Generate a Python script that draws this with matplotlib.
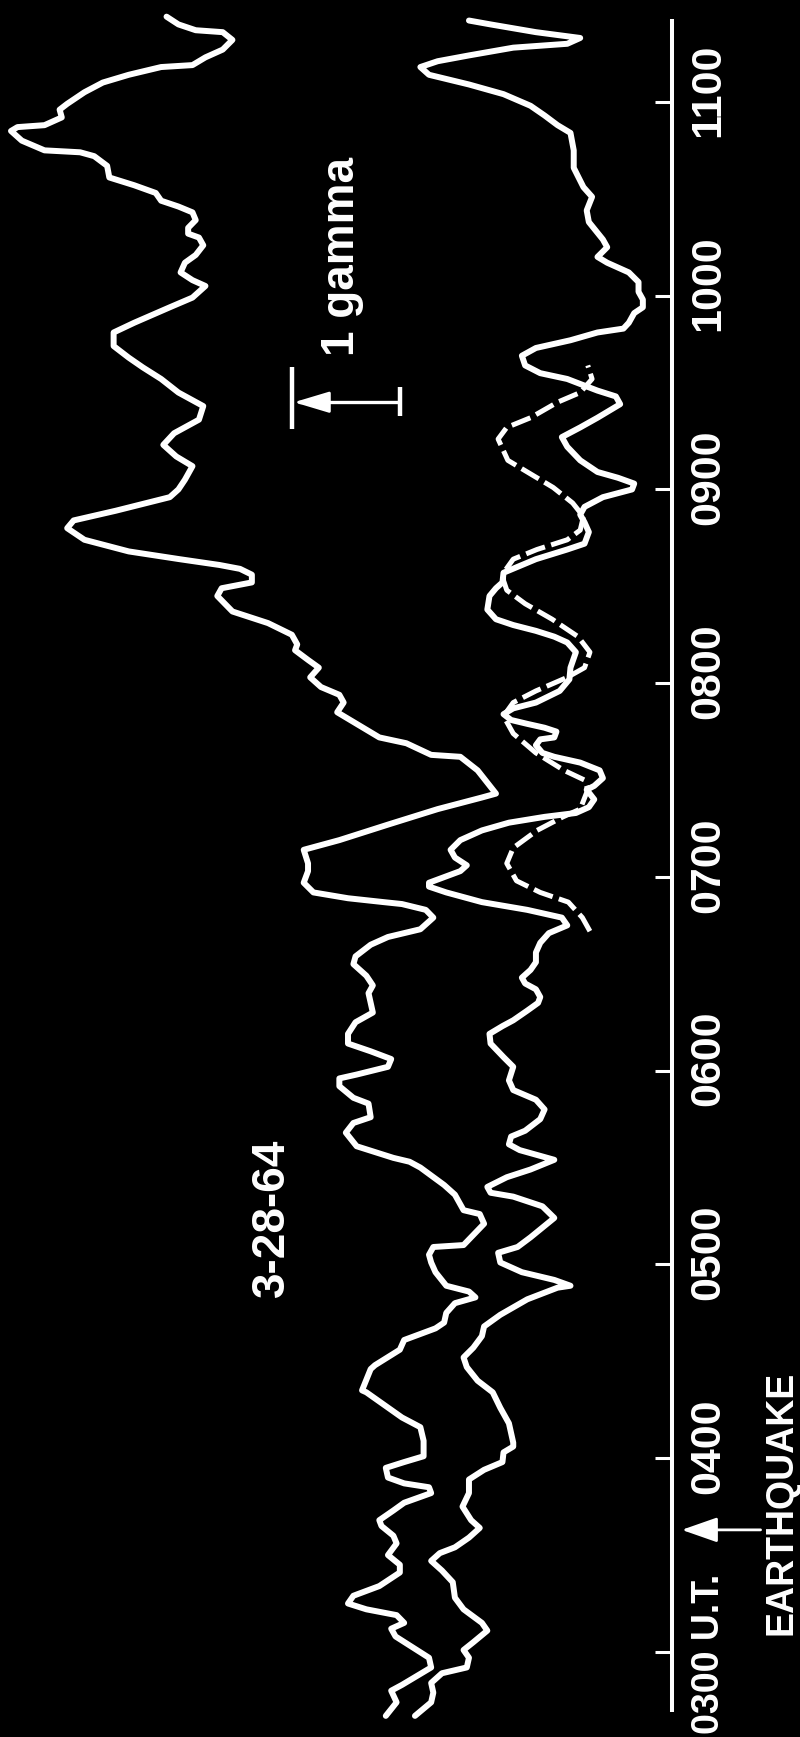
import matplotlib
matplotlib.use("Agg")
import matplotlib.pyplot as plt

# magnetometer record, 28 March 1964 (time in UT hours, field in gamma)
upper_ut = [2.67, 2.74, 2.80, 2.83, 2.92, 2.97, 3.03, 3.08, 3.12, 3.15, 3.19, 3.22, 3.25, 3.29,
            3.34, 3.41, 3.45, 3.50, 3.56, 3.60, 3.65, 3.68, 3.73, 3.77, 3.82, 3.85, 3.87, 3.90,
            3.95, 3.98, 4.01, 4.09, 4.16, 4.21, 4.34, 4.35, 4.46, 4.48, 4.56, 4.61, 4.67, 4.70,
            4.75, 4.80, 4.83, 4.86, 4.89, 4.96, 5.01, 5.05, 5.09, 5.10, 5.21, 5.26, 5.28, 5.36,
            5.41, 5.50, 5.53, 5.55, 5.61, 5.68, 5.73, 5.76, 5.83, 5.86, 5.92, 5.96, 5.98, 6.02,
            6.06, 6.10, 6.14, 6.19, 6.25, 6.30, 6.35, 6.40, 6.44, 6.49, 6.55, 6.59, 6.65, 6.69,
            6.73, 6.79, 6.83, 6.86, 6.87, 6.89, 6.92, 6.97, 7.03, 7.07, 7.14, 7.19, 7.27, 7.35,
            7.41, 7.43, 7.55, 7.62, 7.63, 7.69, 7.72, 7.80, 7.85, 7.90, 7.94, 7.98, 8.03, 8.08,
            8.12, 8.17, 8.20, 8.25, 8.31, 8.37, 8.45, 8.49, 8.52, 8.56, 8.59, 8.61, 8.64, 8.68,
            8.74, 8.80, 8.84, 8.89, 8.96, 9.00, 9.05, 9.12, 9.17, 9.23, 9.29, 9.36, 9.43, 9.50,
            9.57, 9.63, 9.68, 9.74, 9.81, 9.86, 9.94, 9.99, 10.05, 10.08, 10.12, 10.17, 10.21,
            10.26, 10.30, 10.32, 10.35, 10.39, 10.43, 10.46, 10.49, 10.53, 10.57, 10.61, 10.67,
            10.72, 10.74, 10.75, 10.80, 10.85, 10.87, 10.88, 10.92, 10.96, 10.99, 11.05, 11.10,
            11.14, 11.18, 11.19, 11.23, 11.27, 11.32, 11.36, 11.37, 11.40, 11.44]
upper_gamma = [2.65, 2.55, 2.60, 2.50, 2.23, 2.25, 2.42, 2.56, 2.60, 2.48, 2.55, 2.83, 3.00, 2.95,
               2.71, 2.52, 2.52, 2.63, 2.55, 2.58, 2.69, 2.71, 2.58, 2.48, 2.23, 2.25, 2.48, 2.63,
               2.65, 2.48, 2.30, 2.30, 2.33, 2.50, 2.83, 2.87, 2.79, 2.75, 2.52, 2.48, 2.19, 2.11,
               2.09, 2.01, 1.82, 1.88, 2.09, 2.19, 2.23, 2.25, 2.21, 1.93, 1.74, 1.78, 1.93, 2.01,
               2.11, 2.33, 2.43, 2.58, 2.92, 3.02, 2.95, 2.79, 2.81, 2.95, 3.08, 3.08, 2.92, 2.63,
               2.60, 2.79, 3.00, 3.00, 2.93, 2.77, 2.79, 2.81, 2.77, 2.83, 2.95, 2.93, 2.79, 2.63,
               2.33, 2.21, 2.28, 2.50, 2.67, 3.00, 3.32, 3.41, 3.37, 3.37, 3.41, 3.08, 2.63, 2.17,
               1.76, 1.63, 1.80, 1.96, 2.23, 2.46, 2.71, 2.95, 3.10, 3.04, 3.08, 3.25, 3.35, 3.27,
               3.37, 3.49, 3.47, 3.52, 3.74, 4.07, 4.21, 4.17, 3.89, 3.89, 4.00, 4.19, 4.56, 5.03,
               5.44, 5.60, 5.54, 5.15, 4.65, 4.57, 4.51, 4.44, 4.59, 4.71, 4.61, 4.38, 4.34, 4.57,
               4.73, 4.90, 5.03, 5.17, 5.17, 4.98, 4.65, 4.44, 4.32, 4.44, 4.55, 4.51, 4.41,
               4.34, 4.38, 4.48, 4.48, 4.41, 4.44, 4.57, 4.73, 4.78, 4.98, 5.21, 5.23,
               5.35, 5.48, 5.81, 6.02, 6.12, 6.06, 5.81, 5.65, 5.67, 5.60, 5.44, 5.27,
               5.03, 4.73, 4.44, 4.32, 4.16, 4.07, 4.16, 4.41, 4.57, 4.68]

lower_ut = [2.67, 2.74, 2.79, 2.84, 2.89, 2.92, 2.97, 3.01, 3.05, 3.11, 3.15, 3.22, 3.28, 3.36,
            3.42, 3.47, 3.51, 3.54, 3.59, 3.64, 3.68, 3.75, 3.82, 3.89, 3.94, 3.98, 4.03, 4.06,
            4.08, 4.18, 4.26, 4.34, 4.40, 4.47, 4.52, 4.57, 4.63, 4.68, 4.74, 4.82, 4.88, 4.89,
            4.92, 4.96, 5.01, 5.06, 5.09, 5.14, 5.19, 5.24, 5.30, 5.35, 5.37, 5.40, 5.45, 5.49,
            5.54, 5.59, 5.62, 5.66, 5.69, 5.75, 5.80, 5.85, 5.90, 5.95, 6.02, 6.07, 6.14, 6.19,
            6.23, 6.26, 6.31, 6.35, 6.38, 6.42, 6.45, 6.48, 6.52, 6.56, 6.61, 6.66, 6.71, 6.75,
            6.79, 6.83, 6.87, 6.92, 6.95, 6.97, 7.03, 7.06, 7.10, 7.14, 7.19, 7.24, 7.28, 7.31,
            7.33, 7.36, 7.40, 7.45, 7.47, 7.51, 7.55, 7.59, 7.62, 7.64, 7.68, 7.71, 7.72, 7.75,
            7.77, 7.79, 7.81, 7.84, 7.87, 7.90, 7.96, 8.02, 8.08, 8.16, 8.21, 8.24, 8.27, 8.30,
            8.33, 8.38, 8.45, 8.49, 8.52, 8.57, 8.64, 8.69, 8.72, 8.78, 8.83, 8.87, 8.91, 8.96,
            9.00, 9.03, 9.06, 9.09, 9.15, 9.22, 9.27, 9.32, 9.37, 9.44, 9.48, 9.51, 9.57, 9.60,
            9.64, 9.69, 9.73, 9.77, 9.81, 9.83, 9.86, 9.91, 9.94, 9.98, 10.02, 10.07, 10.12,
            10.17, 10.20, 10.25, 10.29, 10.38, 10.44, 10.51, 10.56, 10.66, 10.75, 10.84, 10.88,
            10.93, 10.98, 11.04, 11.09, 11.14, 11.18, 11.21, 11.24, 11.28, 11.30, 11.33, 11.36,
            11.40, 11.42]
lower_gamma = [2.38, 2.23, 2.21, 2.23, 2.13, 1.90, 1.88, 1.93, 1.84, 1.71, 1.76, 1.93, 2.01, 2.03,
               2.13, 2.23, 2.15, 2.01, 1.88, 1.78, 1.86, 1.94, 1.88, 1.88, 1.74, 1.57, 1.56, 1.47,
               1.47, 1.51, 1.59, 1.66, 1.80, 1.90, 1.93, 1.84, 1.76, 1.74, 1.59, 1.34, 1.06, 0.94,
               1.09, 1.39, 1.59, 1.61, 1.43, 1.31, 1.20, 1.09, 1.20, 1.47, 1.68, 1.71, 1.53, 1.31,
               1.09, 1.41, 1.51, 1.49, 1.36, 1.22, 1.18, 1.26, 1.47, 1.51, 1.47, 1.56, 1.68, 1.69,
               1.57, 1.47, 1.34, 1.24, 1.22, 1.26, 1.36, 1.39, 1.31, 1.26, 1.26, 1.22, 1.14, 0.97,
               1.02, 1.34, 1.76, 2.09, 2.25, 2.25, 1.96, 1.90, 2.01, 2.05, 1.96, 1.76, 1.51, 1.18,
               0.89, 0.77, 0.72, 0.79, 0.72, 0.64, 0.67, 0.85, 1.09, 1.20, 1.26, 1.22, 1.09, 1.07,
               1.18, 1.34, 1.49, 1.56, 1.47, 1.26, 1.04, 0.95, 0.94, 0.89, 0.97, 1.09, 1.26, 1.47,
               1.63, 1.71, 1.69, 1.63, 1.57, 1.56, 1.26, 0.97, 0.81, 0.77, 0.81, 0.85, 0.81, 0.64,
               0.37, 0.35, 0.50, 0.69, 0.85, 0.97, 1.02, 0.85, 0.69, 0.48, 0.52, 0.69, 0.97, 1.22,
               1.36, 1.39, 1.26, 0.94, 0.69, 0.45, 0.40, 0.35, 0.27, 0.27, 0.31, 0.31, 0.40,
               0.60, 0.69, 0.60, 0.64, 0.77, 0.79, 0.74, 0.82, 0.91, 0.91, 0.94, 1.06,
               1.18, 1.31, 1.56, 1.88, 2.25, 2.33, 2.17, 1.88, 1.47, 0.97, 0.85, 1.26,
               1.68, 1.88]

# dashed model curve, 0645 - 0945 UT
model_ut = [6.72, 6.79, 6.87, 6.92, 6.98, 7.07, 7.15, 7.24, 7.31, 7.35, 7.45, 7.50, 7.55, 7.64,
            7.74, 7.83, 7.90, 7.96, 8.03, 8.08, 8.16, 8.24, 8.33, 8.41, 8.48, 8.53, 8.57, 8.64,
            8.69, 8.74, 8.79, 8.86, 8.93, 9.01, 9.08, 9.15, 9.26, 9.32, 9.37, 9.45, 9.50, 9.57,
            9.64]
model_gamma = [0.76, 0.83, 0.96, 1.22, 1.44, 1.53, 1.47, 1.25, 1.01, 0.85, 0.78, 0.81, 1.00, 1.26,
               1.47, 1.56, 1.47, 1.26, 0.97, 0.81, 0.76, 0.87, 1.11, 1.36, 1.53, 1.56, 1.56, 1.47,
               1.25, 0.97, 0.85, 0.82, 0.92, 1.10, 1.31, 1.52, 1.61, 1.53, 1.31, 1.06, 0.85, 0.74,
               0.78]

hours = [3, 4, 5, 6, 7, 8, 9, 10, 11]
hour_labels = ["0300 U.T.", "0400", "0500", "0600", "0700", "0800", "0900", "1000", "1100"]
quake_ut = 3.63
record_date = "3-28-64"
scale_label = "1 gamma"

FONT = ["Liberation Sans", "DejaVu Sans"]
LW = 4.3


def label(ax, x, y, s, size, **kw):
    ax.text(x, y, s, rotation=90, color="white", fontsize=size, family=FONT,
            fontweight="bold", ha="center", **kw)


def main():
    fig = plt.figure(figsize=(8, 17.37), dpi=100, facecolor="black")
    ax = fig.add_axes([0, 0, 1, 1])
    ax.set_facecolor("black")
    ax.set_xlim(6.222, -1.185)
    ax.set_ylim(2.561, 11.526)
    ax.axis("off")

    line_kw = dict(color="white", lw=LW, solid_capstyle="round", solid_joinstyle="round")
    ax.plot(upper_gamma, upper_ut, **line_kw)
    ax.plot(lower_gamma, lower_ut, **line_kw)
    ax.plot(model_gamma, model_ut, color="white", lw=3.6, dashes=(4, 1.3),
            dash_capstyle="butt")

    # time axis on the right
    ax.plot([0, 0], [2.69, 11.43], color="white", lw=2.9, solid_capstyle="butt")
    for h, lab in zip(hours, hour_labels):
        ax.plot([0, 0.16], [h, h], color="white", lw=2.2, solid_capstyle="butt")
        if h == 3:
            label(ax, -0.34, 2.575, lab, 27, va="bottom")
        else:
            label(ax, -0.34, h + 0.062, lab, 31, va="center")

    # earthquake marker
    ax.annotate("", xy=(-0.09, quake_ut), xytext=(-0.82, quake_ut),
                arrowprops=dict(arrowstyle="-|>,head_length=0.4,head_width=0.14",
                                mutation_scale=55, color="white", lw=2, shrinkA=0, shrinkB=0))
    label(ax, -1.01, quake_ut + 0.14, "EARTHQUAKE", 27, va="center")

    label(ax, 3.70, 5.24, record_date, 33, va="center")

    # 1 gamma scale bar
    bar_t = 9.45
    ax.plot([2.52, 3.45], [bar_t, bar_t], color="white", lw=2.4, solid_capstyle="butt")
    ax.plot([3.52, 3.52], [9.31, 9.63], color="white", lw=3.2, solid_capstyle="butt")
    ax.plot([2.52, 2.52], [9.38, 9.53], color="white", lw=3.2, solid_capstyle="butt")
    ax.annotate("", xy=(3.50, bar_t), xytext=(3.20, bar_t),
                arrowprops=dict(arrowstyle="-|>,head_length=0.4,head_width=0.12",
                                mutation_scale=55, color="white", lw=2, shrinkA=0, shrinkB=0))
    label(ax, 3.06, 10.20, scale_label, 33, va="center")

    fig.savefig("out.png", dpi=100, facecolor="black")


if __name__ == "__main__":
    main()
